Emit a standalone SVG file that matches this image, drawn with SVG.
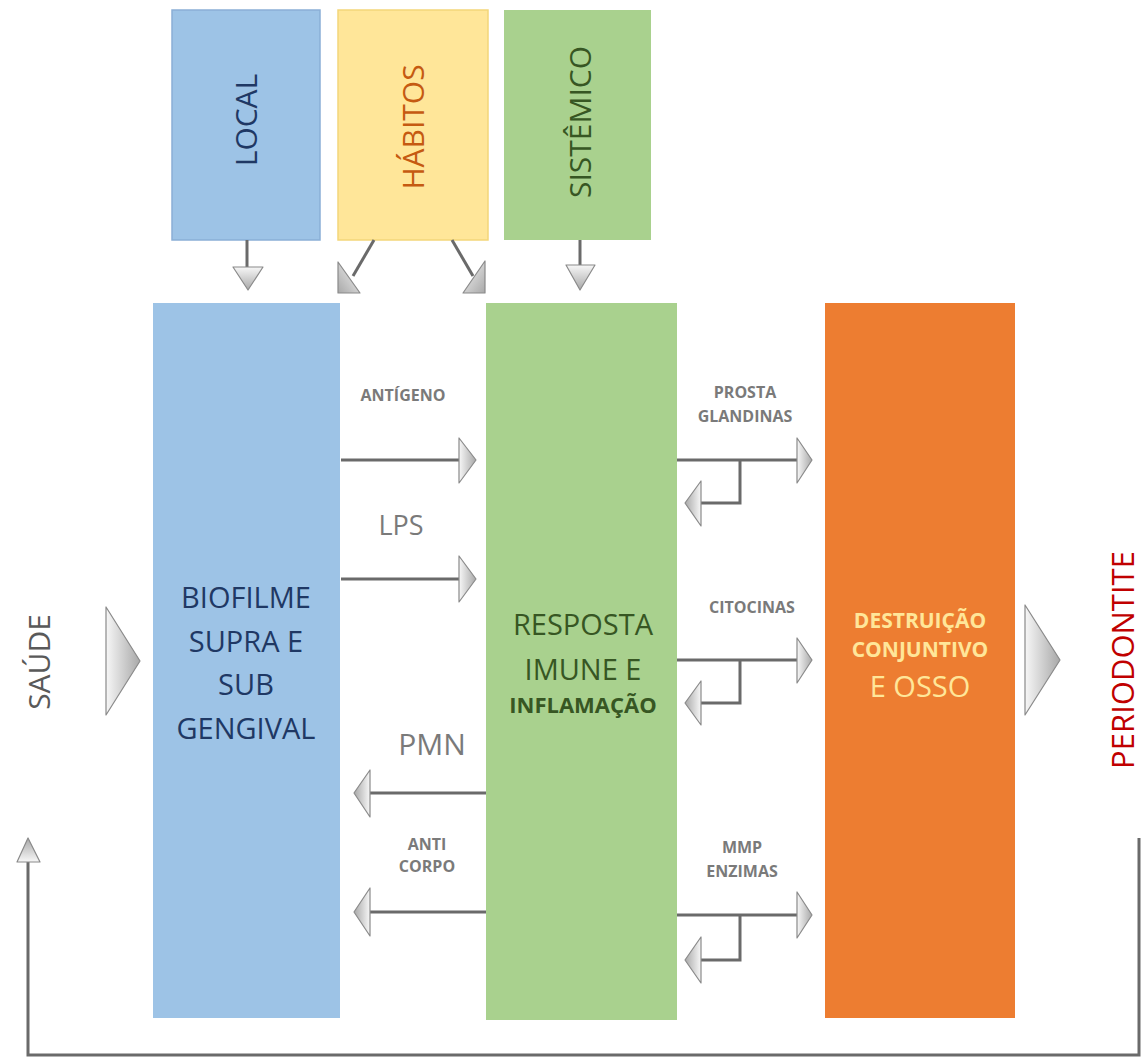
<svg xmlns="http://www.w3.org/2000/svg" width="1143" height="1062" viewBox="0 0 1143 1062">
<defs>
<linearGradient id="gR" x1="0" y1="0" x2="1" y2="0"><stop offset="0" stop-color="#f7f7f7"/><stop offset="1" stop-color="#a8a8a8"/></linearGradient>
<linearGradient id="gL" x1="1" y1="0" x2="0" y2="0"><stop offset="0" stop-color="#f7f7f7"/><stop offset="1" stop-color="#a8a8a8"/></linearGradient>
<linearGradient id="gD" x1="0" y1="0" x2="0" y2="1"><stop offset="0" stop-color="#f7f7f7"/><stop offset="1" stop-color="#a8a8a8"/></linearGradient>
<linearGradient id="gU" x1="0" y1="1" x2="0" y2="0"><stop offset="0" stop-color="#f7f7f7"/><stop offset="1" stop-color="#a8a8a8"/></linearGradient>
<linearGradient id="gDL" x1="1" y1="0" x2="0" y2="1"><stop offset="0" stop-color="#f7f7f7"/><stop offset="1" stop-color="#a8a8a8"/></linearGradient>
<linearGradient id="gDR" x1="0" y1="0" x2="1" y2="1"><stop offset="0" stop-color="#f7f7f7"/><stop offset="1" stop-color="#a8a8a8"/></linearGradient>
</defs>
<style>
text{font-family:"Open Sans","Liberation Sans",sans-serif}
.ln{fill:none;stroke:#6a6a6a;stroke-width:3}
.hd{stroke:#8a8a8a;stroke-width:1.2;stroke-linejoin:round}
.lbl{font-weight:bold;font-size:16px;fill:#7a7a7a;text-anchor:middle}
.big{font-size:29px;text-anchor:middle}
.top{font-size:30px;text-anchor:middle}
.mid{text-anchor:middle}
</style>
<rect width="1143" height="1062" fill="#ffffff"/>

<g id="local">
<rect x="172" y="10" width="148" height="230" fill="#9DC3E6" stroke="#8aafd6" stroke-width="1.5"/>
<text class="top" transform="translate(257,120) rotate(-90)" fill="#1F3864">LOCAL</text>
</g>
<g id="habitos">
<rect x="338" y="10" width="150" height="230" fill="#FFE699" stroke="#f3d67a" stroke-width="1.5"/>
<text class="top" transform="translate(424,127) rotate(-90)" fill="#C55A11">HÁBITOS</text>
</g>
<g id="sistemico">
<rect x="504" y="10" width="147" height="230" fill="#A9D18E"/>
<text class="top" transform="translate(591,122) rotate(-90)" fill="#375623">SISTÊMICO</text>
</g>

<g id="biofilme">
<rect x="153" y="303" width="187" height="715" fill="#9DC3E6"/>
<text class="big" fill="#1F3864"><tspan x="246" y="608">BIOFILME</tspan><tspan x="246" y="652">SUPRA E</tspan><tspan x="246" y="695">SUB</tspan><tspan x="246" y="739">GENGIVAL</tspan></text>
</g>
<g id="resposta">
<rect x="486" y="303" width="191" height="717" fill="#A9D18E"/>
<text class="big" fill="#375623"><tspan x="583" y="635">RESPOSTA</tspan><tspan x="583" y="680">IMUNE E</tspan></text>
<text class="mid" x="583" y="713" font-size="22" font-weight="bold" fill="#375623">INFLAMAÇÃO</text>
</g>
<g id="destruicao">
<rect x="825" y="303" width="190" height="715" fill="#ED7D31"/>
<text class="mid" font-size="21" font-weight="bold" fill="#FFE699"><tspan x="920" y="628">DESTRUIÇÃO</tspan><tspan x="920" y="657">CONJUNTIVO</tspan></text>
<text class="big" x="920" y="697" fill="#FFE699">E OSSO</text>
</g>

<g id="saude">
<text class="top" transform="translate(50,662) rotate(-90)" fill="#595959">SAÚDE</text>
</g>
<g id="periodontite">
<text class="mid" font-size="31" transform="translate(1134,660) rotate(-90)" fill="#C00000">PERIODONTITE</text>
</g>

<g id="connectors">
<path class="ln" d="M247 240V267"/>
<polygon class="hd" fill="url(#gD)" points="233,267 263,267 248,290"/>
<path class="ln" d="M374 240L353 276"/>
<polygon class="hd" fill="url(#gDL)" points="338,262 338,293 360,293"/>
<path class="ln" d="M452 240L473 276"/>
<polygon class="hd" fill="url(#gDR)" points="485,261 485,293 463,293"/>
<path class="ln" d="M580 240V265"/>
<polygon class="hd" fill="url(#gD)" points="566,265 595,265 580,290"/>

<polygon class="hd" fill="url(#gR)" points="106,607 106,715 140,661"/>
<polygon class="hd" fill="url(#gR)" points="1025,605 1025,715 1060,660"/>

<text class="lbl" x="403" y="401">ANTÍGENO</text>
<path class="ln" d="M341 460H460"/>
<polygon class="hd" fill="url(#gR)" points="459,438 459,483 476,460"/>
<text class="mid" x="401" y="535" font-size="27" fill="#7a7a7a">LPS</text>
<path class="ln" d="M341 579H460"/>
<polygon class="hd" fill="url(#gR)" points="459,556 459,602 476,579"/>

<text class="mid" x="432" y="755" font-size="30" fill="#7a7a7a">PMN</text>
<path class="ln" d="M486 793H369"/>
<polygon class="hd" fill="url(#gL)" points="370,770 370,817 354,793"/>
<text class="lbl"><tspan x="427" y="850">ANTI</tspan><tspan x="427" y="872">CORPO</tspan></text>
<path class="ln" d="M486 912H369"/>
<polygon class="hd" fill="url(#gL)" points="370,888 370,936 354,912"/>

<text class="lbl"><tspan x="745" y="398">PROSTA</tspan><tspan x="745" y="422">GLANDINAS</tspan></text>
<path class="ln" d="M677 460H798"/>
<polygon class="hd" fill="url(#gR)" points="797,438 797,483 812,460"/>
<path class="ln" d="M740 460V503H700"/>
<polygon class="hd" fill="url(#gL)" points="701,481 701,526 685,503"/>

<text class="lbl" x="752" y="613">CITOCINAS</text>
<path class="ln" d="M677 660H798"/>
<polygon class="hd" fill="url(#gR)" points="797,638 797,683 812,660"/>
<path class="ln" d="M740 660V703H700"/>
<polygon class="hd" fill="url(#gL)" points="701,681 701,725 685,703"/>

<text class="lbl"><tspan x="742" y="853">MMP</tspan><tspan x="742" y="877">ENZIMAS</tspan></text>
<path class="ln" d="M677 915H798"/>
<polygon class="hd" fill="url(#gR)" points="797,892 797,938 812,915"/>
<path class="ln" d="M740 915V960H700"/>
<polygon class="hd" fill="url(#gL)" points="701,937 701,983 685,960"/>

<path class="ln" d="M1139 838V1055H28V861"/>
<polygon class="hd" fill="url(#gU)" points="17,862 40,862 28,838"/>
</g>
</svg>
